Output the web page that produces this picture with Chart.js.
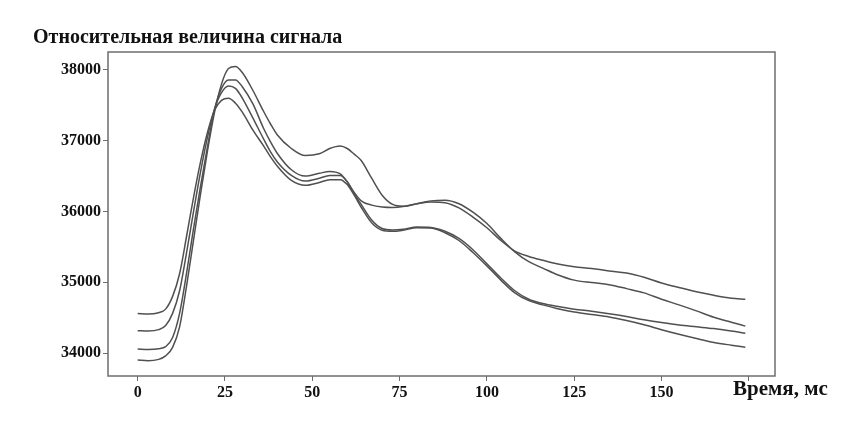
<!DOCTYPE html>
<html>
<head>
<meta charset="utf-8">
<title>Относительная величина сигнала</title>
<script src="https://cdn.jsdelivr.net/npm/chart.js@4/dist/chart.umd.min.js"></script>
<style>
  html, body { margin: 0; padding: 0; background: #fff; }
  #box { width: 861px; height: 422px; }
</style>
</head>
<body>
<div id="box"><canvas id="grafik"></canvas></div>
<script>
// время, мс
var vremya = [0, 3, 6, 8, 10, 12, 14, 16, 18, 20, 22, 24, 26, 28, 30, 33, 36, 38, 40, 44,
  48, 52, 55, 58, 60, 62, 64, 67, 70, 73, 76, 80, 84, 88, 92, 96, 100, 104, 108, 112,
  116, 120, 125, 130, 135, 140, 145, 150, 155, 160, 165, 170, 174];

// четыре кривые
var kriv1 = [34560, 34550, 34570, 34620, 34800, 35120, 35650, 36200, 36700, 37120, 37430, 37570, 37600, 37530, 37400, 37150, 36930, 36775, 36640, 36440,
  36370, 36410, 36450, 36450, 36380, 36230, 36060, 35840, 35735, 35720, 35735, 35770, 35765, 35700, 35590, 35420, 35230, 35030, 34850, 34740,
  34680, 34630, 34580, 34545, 34510, 34460, 34400, 34330, 34265, 34205, 34150, 34110, 34081];
var kriv2 = [34316, 34310, 34330, 34390, 34560, 34880, 35420, 36000, 36560, 37050, 37450, 37680, 37775, 37740, 37600, 37320, 37030, 36845, 36700, 36510,
  36430, 36470, 36510, 36510, 36420, 36250, 36100, 35880, 35760, 35740, 35750, 35780, 35775, 35720, 35620, 35460, 35260, 35060, 34880, 34760,
  34700, 34660, 34620, 34590, 34555, 34515, 34470, 34430, 34395, 34370, 34345, 34310, 34278];
var kriv3 = [34057, 34050, 34060, 34090, 34220, 34560, 35130, 35760, 36360, 36920, 37440, 37740, 37860, 37860, 37760, 37520, 37180, 36987, 36820, 36590,
  36500, 36540, 36565, 36530, 36420, 36270, 36150, 36090, 36065, 36058, 36070, 36110, 36135, 36125, 36050, 35920, 35770, 35590, 35440, 35365,
  35310, 35260, 35220, 35195, 35160, 35130, 35070, 34990, 34925, 34865, 34815, 34775, 34760];
var kriv4 = [33900, 33890, 33910, 33960, 34080, 34370, 34950, 35600, 36250, 36860, 37400, 37800, 38020, 38050, 37960, 37710, 37420, 37240, 37080, 36890,
  36790, 36815, 36890, 36925, 36890, 36810, 36720, 36470, 36230, 36100, 36075, 36110, 36150, 36160, 36110, 35990, 35830, 35620, 35430, 35290,
  35200, 35110, 35030, 34995, 34965, 34910, 34850, 34760, 34680, 34595, 34505, 34435, 34380];

var xTiki = [0, 25, 50, 75, 100, 125, 150, 175];
var xPodpisi = ["0", "25", "50", "75", "100", "125", "150", ""];
var yTiki = [34000, 35000, 36000, 37000, 38000];

var zagolovok = "Относительная величина сигнала";
var osX = "Время, мс";

var shrift = "'Liberation Serif', 'Times New Roman', serif";
var cvetLinii = "#505050";

function tochki(arr) {
    var res = [];
    for (var i = 0; i < vremya.length; i++) {
        res.push({ x: vremya[i], y: arr[i] });
    }
    return res;
}

var nabory = [kriv1, kriv2, kriv3, kriv4].map(function (k) {
    return {
        data: tochki(k),
        borderColor: cvetLinii,
        borderWidth: 1.5,
        pointRadius: 0,
        fill: false,
        cubicInterpolationMode: "monotone"
    };
});

// рамка вокруг поля и надписи
var ramka = {
    id: "ramka",
    afterDraw: function (chart) {
        var ctx = chart.ctx;
        var a = chart.chartArea;
        ctx.save();
        ctx.strokeStyle = "#6e6e6e";
        ctx.lineWidth = 1.5;
        ctx.strokeRect(a.left, a.top, a.right - a.left, a.bottom - a.top);

        ctx.fillStyle = "#111";
        ctx.textBaseline = "alphabetic";
        ctx.textAlign = "left";
        ctx.font = "bold 20px " + shrift;
        ctx.fillText(zagolovok, 33, 43);
        ctx.font = "bold 21px " + shrift;
        ctx.fillText(osX, 733, 395);
        ctx.restore();
    }
};

new Chart(document.getElementById("grafik"), {
    type: "line",
    data: { datasets: nabory },
    options: {
        responsive: true,
        maintainAspectRatio: false,
        animation: false,
        layout: { padding: { left: 0, top: 52, right: 86, bottom: 0 } },
        plugins: {
            legend: { display: false },
            tooltip: { enabled: false }
        },
        scales: {
            x: {
                type: "linear",
                min: -8.5,
                max: 182.5,
                afterBuildTicks: function (scale) {
                    scale.ticks = xTiki.map(function (v) { return { value: v }; });
                },
                afterFit: function (scale) { scale.height = 46; },
                border: { display: false },
                grid: {
                    drawOnChartArea: false,
                    drawTicks: true,
                    tickLength: 5,
                    color: "#6e6e6e",
                    lineWidth: 1
                },
                ticks: {
                    autoSkip: false,
                    maxRotation: 0,
                    padding: 2,
                    color: "#111",
                    font: { family: shrift, size: 16, weight: "bold" },
                    callback: function (v) {
                        var i = xTiki.indexOf(v);
                        return i >= 0 ? xPodpisi[i] : "";
                    }
                }
            },
            y: {
                min: 33675,
                max: 38254,
                afterBuildTicks: function (scale) {
                    scale.ticks = yTiki.map(function (v) { return { value: v }; });
                },
                afterFit: function (scale) { scale.width = 108; },
                border: { display: false },
                grid: {
                    drawOnChartArea: false,
                    drawTicks: true,
                    tickLength: 5,
                    color: "#6e6e6e",
                    lineWidth: 1
                },
                ticks: {
                    padding: 2,
                    color: "#111",
                    font: { family: shrift, size: 16, weight: "bold" },
                    callback: function (v) { return String(v); }
                }
            }
        }
    },
    plugins: [ramka]
});
</script>
</body>
</html>
